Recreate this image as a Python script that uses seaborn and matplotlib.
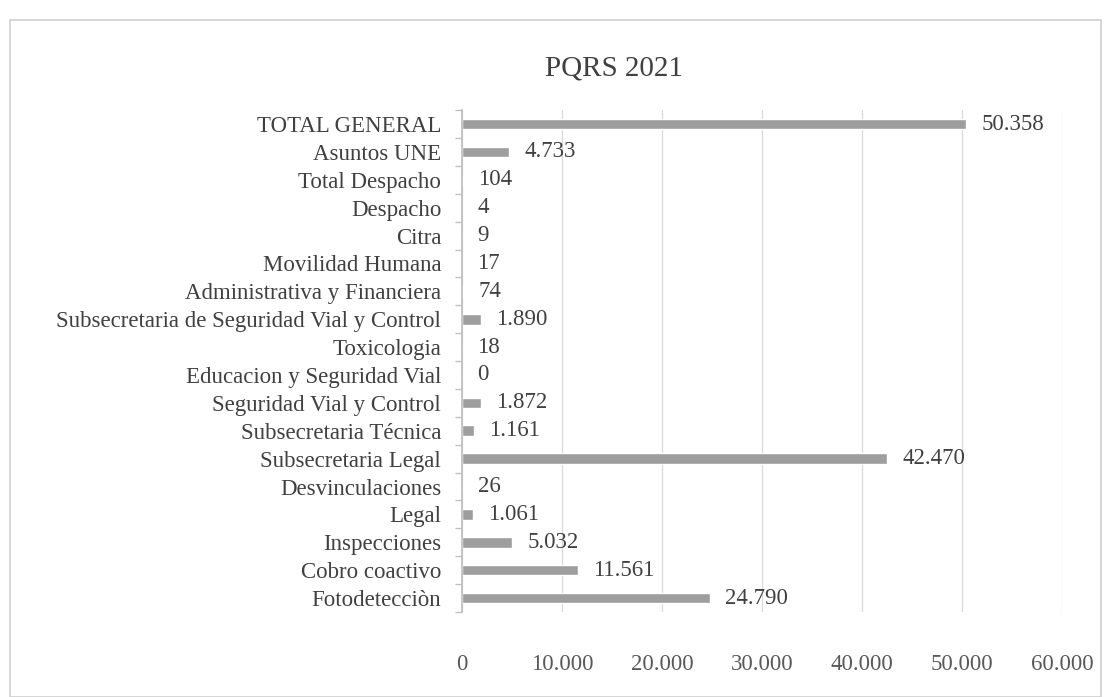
import matplotlib
matplotlib.use('Agg')
import matplotlib.pyplot as plt
import seaborn as sns
import pandas as pd
from matplotlib.ticker import FuncFormatter, MultipleLocator

categories = [
    'TOTAL GENERAL', 'Asuntos UNE', 'Total Despacho', 'Despacho', 'Citra',
    'Movilidad Humana', 'Administrativa y Financiera',
    'Subsecretaria de Seguridad Vial y Control', 'Toxicologia',
    'Educacion y Seguridad Vial', 'Seguridad Vial y Control',
    'Subsecretaria Técnica', 'Subsecretaria Legal', 'Desvinculaciones',
    'Legal', 'Inspecciones', 'Cobro coactivo', 'Fotodetecciòn',
]
values = [50358, 4733, 104, 4, 9, 17, 74, 1890, 18, 0, 1872, 1161,
          42470, 26, 1061, 5032, 11561, 24790]
x_ticks = [0, 10000, 20000, 30000, 40000, 50000, 60000]


def miles(v):
    return f'{int(v):,}'.replace(',', '.')


df = pd.DataFrame({'area': categories, 'pqrs': values})

sns.set_theme(style='white')
plt.rcParams['font.family'] = ['Liberation Serif', 'DejaVu Serif']

fig = plt.figure(figsize=(11.16, 6.97), dpi=100)
ax = fig.add_axes([0.414, 0.122, 0.538, 0.720])

sns.barplot(data=df, x='pqrs', y='area', color='#9e9e9e', width=0.38,
            saturation=1, ax=ax)

for c in ax.containers:
    ax.bar_label(c, labels=[miles(v) for v in values], padding=11,
                 fontsize=16.5, color='#404040')

ax.set_xlim(0, 60000)
ax.set_xticks(x_ticks)
ax.xaxis.set_major_formatter(FuncFormatter(lambda v, p: miles(v)))
ax.set_xlabel('')
ax.set_ylabel('')
ax.grid(axis='x', color='#d9d9d9', linewidth=0.9)
ax.set_axisbelow(True)
for s in ['top', 'right', 'bottom']:
    ax.spines[s].set_visible(False)
ax.spines['left'].set_color('#bfbfbf')
ax.tick_params(axis='x', length=0, labelsize=16.5, labelcolor='#595959', pad=30)
ax.tick_params(axis='y', which='major', length=0, labelsize=16.5,
               labelcolor='#404040', pad=15)
ax.yaxis.set_minor_locator(MultipleLocator(1, offset=0.5))
ax.tick_params(axis='y', which='minor', left=True, length=5,
               color='#bfbfbf', width=0.9)
ax.set_ylim(len(categories) - 0.5, -0.5)

fig.text(0.55, 0.902, 'PQRS 2021', ha='center', va='center',
         fontsize=21, color='#404040')

border = plt.Rectangle((0.009, 0.0), 0.978, 0.972, transform=fig.transFigure,
                       fill=False, edgecolor='#d0d0d0', linewidth=1.2)
fig.add_artist(border)

fig.savefig('out.png', dpi=100, facecolor='white')
